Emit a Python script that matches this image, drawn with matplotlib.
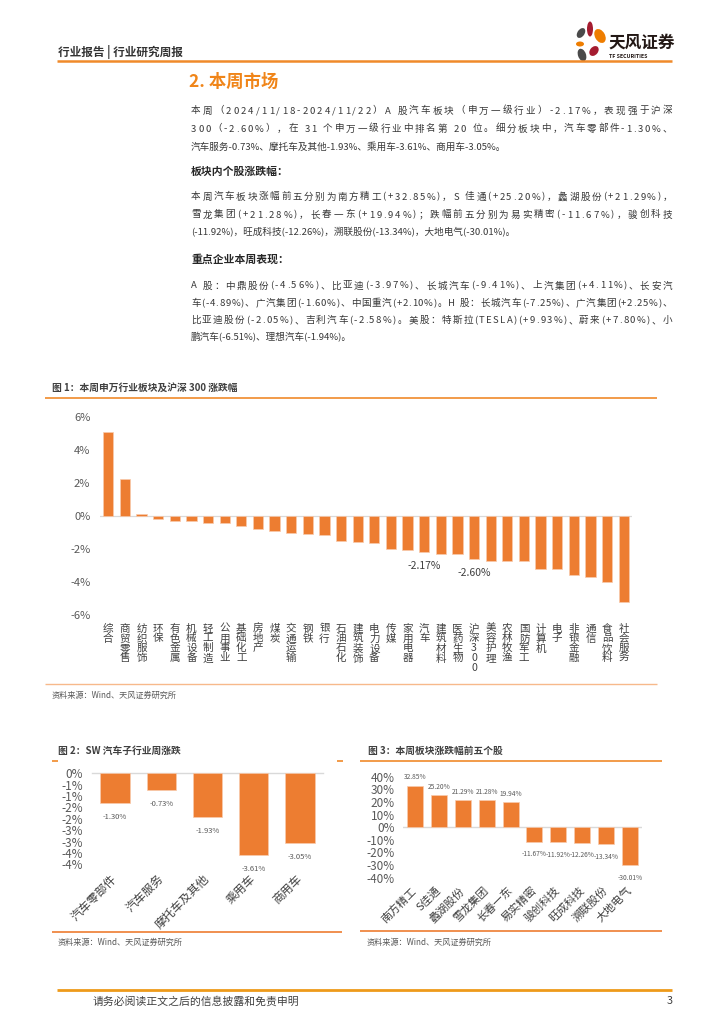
import matplotlib.pyplot as plt
from matplotlib.patches import Ellipse

plt.rcParams['font.family'] = ['Noto Sans CJK SC', 'DejaVu Sans']

# ---- data: 图1 申万一级行业 + 沪深300 周涨跌幅 (%)
industries = ['综合', '商贸零售', '纺织服饰', '环保', '有色金属', '机械设备', '轻工制造', '公用事业',
              '基础化工', '房地产', '煤炭', '交通运输', '钢铁', '银行', '石油石化', '建筑装饰',
              '电力设备', '传媒', '家用电器', '汽车', '建筑材料', '医药生物', '沪深300', '美容护理',
              '农林牧渔', '国防军工', '计算机', '电子', '非银金融', '通信', '食品饮料', '社会服务']
industry_chg = [5.08, 2.22, 0.12, -0.20, -0.32, -0.32, -0.42, -0.42, -0.60, -0.81, -0.89, -1.05,
                -1.09, -1.17, -1.53, -1.59, -1.63, -2.01, -2.07, -2.17, -2.30, -2.30, -2.60, -2.70,
                -2.70, -2.74, -3.18, -3.22, -3.59, -3.67, -4.01, -5.18]
labeled_industries = ['汽车', '沪深300']
fig1_yticks = [-6, -4, -2, 0, 2, 4, 6]

# ---- data: 图2 SW 汽车子行业周涨跌 (%)
sub_sectors = ['汽车零部件', '汽车服务', '摩托车及其他', '乘用车', '商用车']
sub_chg = [-1.30, -0.73, -1.93, -3.61, -3.05]
fig2_yticks = [0, -0.5, -1, -1.5, -2, -2.5, -3, -3.5, -4]
fig2_yticklabels = ['0%', '-1%', '-1%', '-2%', '-2%', '-3%', '-3%', '-4%', '-4%']

# ---- data: 图3 本周板块涨跌幅前五个股 (%)
stocks = ['南方精工', 'S佳通', '蠡湖股份', '雪龙集团', '长春一东',
          '易实精密', '骏创科技', '旺成科技', '溯联股份', '大地电气']
stock_chg = [32.85, 25.20, 21.29, 21.28, 19.94, -11.67, -11.92, -12.26, -13.34, -30.01]
fig3_yticks = [-40, -30, -20, -10, 0, 10, 20, 30, 40]

# ---- page text
para1 = ['本周（2024/11/18-2024/11/22）A 股汽车板块（申万一级行业）-2.17%，表现强于沪深',
         '300（-2.60%），在 31 个申万一级行业中排名第 20 位。细分板块中，汽车零部件-1.30%、',
         '汽车服务-0.73%、摩托车及其他-1.93%、乘用车-3.61%、商用车-3.05%。']
para2 = ['本周汽车板块涨幅前五分别为南方精工(+32.85%)，S 佳通(+25.20%)，蠡湖股份(+21.29%)，',
         '雪龙集团(+21.28%)，长春一东(+19.94%)；跌幅前五分别为易实精密(-11.67%)，骏创科技',
         '(-11.92%)，旺成科技(-12.26%)，溯联股份(-13.34%)，大地电气(-30.01%)。']
para3 = ['A 股：中鼎股份(-4.56%)、比亚迪(-3.97%)、长城汽车(-9.41%)、上汽集团(+4.11%)、长安汽',
         '车(-4.89%)、广汽集团(-1.60%)、中国重汽(+2.10%)。H 股：长城汽车(-7.25%)、广汽集团(+2.25%)、',
         '比亚迪股份(-2.05%)、吉利汽车(-2.58%)。美股：特斯拉(TESLA)(+9.93%)、蔚来(+7.80%)、小',
         '鹏汽车(-6.51%)、理想汽车(-1.94%)。']

ORANGE = '#ED7D31'
LINE_ORANGE = '#F08A2A'
GRID = '#D9D9D9'
TXT = '#404040'
TICK = '#595959'
W, H = 724, 1024
BODY_SIZE = 6.9

fig = plt.figure(figsize=(W / 100, H / 100), dpi=100)
page = fig.add_axes([0, 0, 1, 1])
page.set_xlim(0, W)
page.set_ylim(H, 0)
page.axis('off')
renderer = fig.canvas.get_renderer()


def px_axes(x0, y0, x1, y1):
    return fig.add_axes([x0 / W, 1 - y1 / H, (x1 - x0) / W, (y1 - y0) / H])


def hline(x0, x1, y, color=LINE_ORANGE, lw=1.2):
    page.plot([x0, x1], [y, y], color=color, lw=lw, solid_capstyle='butt')


def body_line(line, x0, y, x1=None, size=BODY_SIZE):
    if x1 is None:
        page.text(x0, y + 3.5, line, fontsize=size, va='baseline', color='#383838')
        return
    # justified: every character gets the same extra space
    arts, widths = [], []
    for ch in line:
        if ch == ' ':
            arts.append(None)
            widths.append(size * 100 / 72 * 0.3)
            continue
        a = page.text(x0, y + 3.5, ch, fontsize=size, va='baseline', color='#383838')
        arts.append(a)
        widths.append(a.get_window_extent(renderer).width)
    gap = (x1 - x0 - sum(widths)) / (len(arts) - 1)
    x = x0
    for a, w in zip(arts, widths):
        if a is not None:
            a.set_x(x)
        x += w + gap


def paragraph(lines, y0, step, x0=191, x1=672):
    for i, line in enumerate(lines):
        last = i == len(lines) - 1
        body_line(line, x0, y0 + step * i, None if last else x1)


# header
page.text(58, 52, '行业报告 | 行业研究周报', fontsize=8.4, fontweight='bold', color='#333333', va='center')
hline(57, 672, 61, lw=1.8)

# logo
for (cx, cy, w, h, ang, col) in [(581, 33, 7, 11, 35, '#4A4A4A'), (590, 29, 6, 15, 0, '#A51C30'),
                                  (600, 36, 10, 15, -30, '#EE7D00'), (580, 44, 8, 5, 0, '#EE7D00'),
                                  (594, 51, 8, 11, 40, '#A51C30'), (582, 55, 8, 13, -20, '#4A4A4A')]:
    page.add_patch(Ellipse((cx, cy), w, h, angle=ang, color=col, lw=0))
page.text(608, 43, '天风证券', fontsize=12, fontweight='bold', color='#231815', va='center')
page.text(609, 56, 'TF SECURITIES', fontsize=3.8, fontweight='bold', color='#231815', va='center')

# section
page.text(189, 82, '2. 本周市场', fontsize=12.5, fontweight='bold', color='#F08519', va='center')

paragraph(para1, 110, 18)
page.text(191, 172, '板块内个股涨跌幅：', fontsize=7.8, fontweight='bold', color='#262626', va='center')
paragraph(para2, 196, 18)
page.text(191, 259, '重点企业本周表现：', fontsize=7.8, fontweight='bold', color='#262626', va='center')
paragraph(para3, 285, 17.3)

# ---------------- 图1
page.text(52, 388, '图 1：本周申万行业板块及沪深 300 涨跌幅', fontsize=7, fontweight='bold', color=TXT, va='center')
hline(45, 657, 398)
hline(45, 657, 684, color='#F7B98B', lw=1.0)
page.text(52, 695, '资料来源：Wind、天风证券研究所', fontsize=5.9, color=TICK, va='center')

ax1 = px_axes(100, 416.7, 632, 615.3)
x1 = range(len(industries))
ax1.bar(x1, industry_chg, width=0.62, color=ORANGE, edgecolor='#F8CBAD', linewidth=0.5, zorder=2)
ax1.axhline(0, color=GRID, lw=0.9, zorder=1)
ax1.set_xlim(-0.5, len(industries) - 0.5)
ax1.set_ylim(-6, 6)
ax1.set_yticks(fig1_yticks)
ax1.set_yticklabels(['{:d}%'.format(v) for v in fig1_yticks])
ax1.set_xticks(list(x1))
ax1.set_xticklabels(['\n'.join(name) for name in industries], fontsize=7.6, linespacing=0.98,
                    color=TXT, va='top')
ax1.tick_params(axis='y', length=0, pad=7, labelsize=8, labelcolor=TICK)
ax1.tick_params(axis='x', length=0, pad=6)
for s in ax1.spines.values():
    s.set_visible(False)
for i, (name, v) in enumerate(zip(industries, industry_chg)):
    if name in labeled_industries:
        ax1.annotate('{:.2f}%'.format(v), (i, v), xytext=(0, -10), textcoords='offset points',
                     ha='center', va='center', fontsize=7.5, color=TXT)

# ---------------- 图2
page.text(58, 750.7, '图 2：SW 汽车子行业周涨跌', fontsize=7, fontweight='bold', color=TXT, va='center')
hline(52, 58, 760.7)
hline(337, 343, 760.7)
hline(52, 342, 931.7, color=ORANGE)
page.text(58, 942, '资料来源：Wind、天风证券研究所', fontsize=5.9, color=TICK, va='center')

ax2 = px_axes(92, 773.3, 323, 864.3)
x2 = range(len(sub_sectors))
ax2.bar(x2, sub_chg, width=0.64, color=ORANGE, edgecolor='#F8CBAD', linewidth=0.5, zorder=2)
ax2.axhline(0, color=GRID, lw=1.0, zorder=1, clip_on=False)
ax2.set_xlim(-0.5, len(sub_sectors) - 0.5)
ax2.set_ylim(-4, 0)
ax2.set_yticks(fig2_yticks)
ax2.set_yticklabels(fig2_yticklabels)
ax2.set_xticks(list(x2))
ax2.set_xticklabels(sub_sectors, rotation=45, ha='right', va='center', rotation_mode='anchor',
                    fontsize=8.5, color=TXT)
ax2.tick_params(axis='y', length=0, pad=6.5, labelsize=8.5, labelcolor=TICK)
ax2.tick_params(axis='x', length=0, pad=9)
for s in ax2.spines.values():
    s.set_visible(False)
for i, v in enumerate(sub_chg):
    ax2.annotate('{:.2f}%'.format(v), (i, v), xytext=(0, -10), textcoords='offset points',
                 ha='center', va='center', fontsize=5.5, color=TICK, annotation_clip=False)

# ---------------- 图3
page.text(368, 750.7, '图 3：本周板块涨跌幅前五个股', fontsize=7, fontweight='bold', color=TXT, va='center')
hline(360, 662, 760.7)
hline(360, 662, 931, color=ORANGE)
page.text(367, 942, '资料来源：Wind、天风证券研究所', fontsize=5.9, color=TICK, va='center')

ax3 = px_axes(403, 776.7, 642, 877.7)
x3 = range(len(stocks))
ax3.bar(x3, stock_chg, width=0.67, color=ORANGE, edgecolor='#F8CBAD', linewidth=0.5, zorder=2)
ax3.axhline(0, color=GRID, lw=1.0, zorder=1)
ax3.set_xlim(-0.5, len(stocks) - 0.5)
ax3.set_ylim(-40, 40)
ax3.set_yticks(fig3_yticks)
ax3.set_yticklabels(['{:d}%'.format(v) for v in fig3_yticks])
ax3.set_xticks(list(x3))
ax3.set_xticklabels(stocks, rotation=45, ha='right', va='center', rotation_mode='anchor',
                    fontsize=8, color=TXT)
ax3.tick_params(axis='y', length=0, pad=6, labelsize=8.5, labelcolor=TICK)
ax3.tick_params(axis='x', length=0, pad=8)
for s in ax3.spines.values():
    s.set_visible(False)
for i, v in enumerate(stock_chg):
    off = 6 if v > 0 else -9
    ax3.annotate('{:.2f}%'.format(v), (i, v), xytext=(0, off), textcoords='offset points',
                 ha='center', va='center', fontsize=4.8, color=TICK, annotation_clip=False)

# footer
hline(57, 672, 990, color='#EE9A1A', lw=2)
page.text(93, 1001, '请务必阅读正文之后的信息披露和免责申明', fontsize=7.8, color=TXT, va='center')
page.text(667, 1001, '3', fontsize=7.8, color=TXT, va='center')

fig.savefig('out.png', dpi=100)
